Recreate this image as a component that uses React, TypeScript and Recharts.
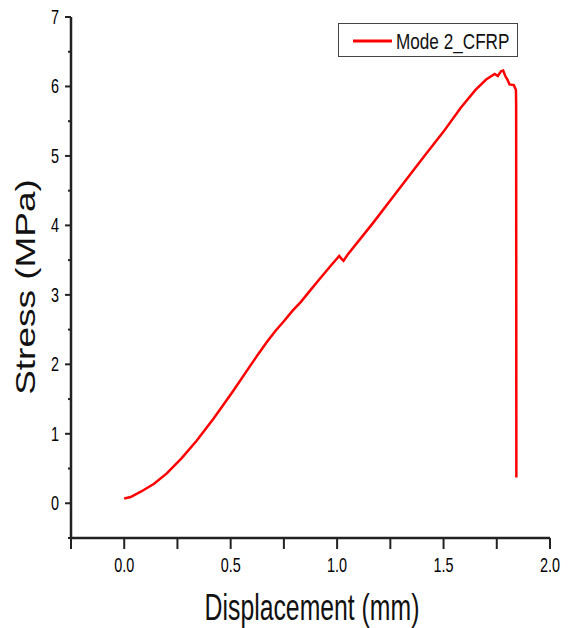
import React from 'react';
import { LineChart, Line, XAxis, YAxis } from 'recharts';

const displacement = [
    0.0, 0.03, 0.08, 0.14, 0.2, 0.27, 0.34, 0.42, 0.51, 0.59, 0.63, 0.67, 0.71, 0.75, 0.79,
    0.83, 0.87, 0.91, 0.97, 1.01, 1.02, 1.03, 1.05, 1.17, 1.29, 1.41, 1.5, 1.58, 1.65, 1.7,
    1.74, 1.755, 1.77, 1.78, 1.79, 1.8, 1.81, 1.83, 1.84, 1.841, 1.842,
];
const stress = [
    0.07, 0.09, 0.17, 0.28, 0.43, 0.65, 0.9, 1.22, 1.61, 1.97, 2.15, 2.32, 2.48, 2.62, 2.77,
    2.9, 3.05, 3.2, 3.42, 3.56, 3.52, 3.49, 3.58, 4.04, 4.52, 5.0, 5.35, 5.69, 5.95, 6.1,
    6.18, 6.15, 6.22, 6.23, 6.15, 6.1, 6.03, 6.02, 5.95, 5.75, 0.37,
];
const xTicks = [-0.25, 0, 0.25, 0.5, 0.75, 1, 1.25, 1.5, 1.75, 2];
const xLabels = [0, 0.5, 1, 1.5, 2];
const yTicks = [-0.5, 0, 0.5, 1, 1.5, 2, 2.5, 3, 3.5, 4, 4.5, 5, 5.5, 6, 6.5, 7];
const seriesName = 'Mode 2_CFRP';

const data = displacement.map((d, i) => ({ d, s: stress[i] }));

const FONT = 'Liberation Sans, Arial, sans-serif';
const SQUEEZE = 0.72;

const XTick = (props: any) => {
    const { x, y, payload } = props;
    const v = payload.value;
    const show = xLabels.some((l) => Math.abs(l - v) < 1e-6);
    return (
        <g>
            <line x1={x} x2={x} y1={y} y2={y + 11} stroke="#222" strokeWidth={2} />
            {show && (
                <text
                    transform={`translate(${x},${y + 34}) scale(${SQUEEZE},1)`}
                    textAnchor="middle"
                    fontSize={20}
                    fontFamily={FONT}
                    fill="#000"
                >
                    {v.toFixed(1)}
                </text>
            )}
        </g>
    );
};

const YTick = (props: any) => {
    const { x, y, payload } = props;
    const v = payload.value;
    const major = Number.isInteger(v);
    return (
        <g>
            <line x1={x - (major ? 6 : 3)} x2={x} y1={y} y2={y} stroke="#222" strokeWidth={2} />
            {major && (
                <text
                    transform={`translate(${x - 12},${y + 7}) scale(${SQUEEZE},1)`}
                    textAnchor="end"
                    fontSize={20}
                    fontFamily={FONT}
                    fill="#000"
                >
                    {v}
                </text>
            )}
        </g>
    );
};

// legend drawn as an overlay so it does not push the plot area down
const LegendBox = () => (
    <svg width={180} height={34} style={{ display: 'block' }}>
        <rect x={0.5} y={0.5} width={179} height={33} fill="#fff" stroke="#444" strokeWidth={1} />
        <line x1={15} x2={54} y1={18} y2={18} stroke="#ff0000" strokeWidth={3} />
        <text transform="translate(58,26) scale(0.78,1)" fontSize={22} fontFamily={FONT} fill="#111">
            {seriesName}
        </text>
    </svg>
);

export default function App() {
    return (
        <div style={{ position: 'absolute', left: 0, top: 0, width: 573, height: 628, background: '#fff' }}>
            <LineChart width={573} height={628} data={data} margin={{ top: 17, right: 23, left: 0, bottom: 0 }}>
                <XAxis
                    dataKey="d"
                    type="number"
                    domain={[-0.25, 2]}
                    ticks={xTicks}
                    allowDataOverflow
                    height={90}
                    tickSize={0}
                    tickMargin={0}
                    tick={<XTick />}
                    axisLine={{ stroke: '#222', strokeWidth: 2.5 }}
                    label={{
                        content: () => (
                            <text
                                transform={`translate(312,620) scale(0.67,1)`}
                                textAnchor="middle"
                                fontSize={37}
                                fontFamily={FONT}
                                fill="#111"
                            >
                                Displacement (mm)
                            </text>
                        ),
                    }}
                />
                <YAxis
                    type="number"
                    domain={[-0.5, 7]}
                    ticks={yTicks}
                    allowDataOverflow
                    width={71}
                    tickSize={0}
                    tickMargin={0}
                    tick={<YTick />}
                    axisLine={{ stroke: '#222', strokeWidth: 2.5 }}
                    label={{
                        content: () => (
                            <text
                                transform={`translate(35,287) rotate(-90) scale(1,0.74)`}
                                textAnchor="middle"
                                fontSize={37}
                                fontFamily={FONT}
                                fill="#111"
                            >
                                Stress (MPa)
                            </text>
                        ),
                    }}
                />
                <Line
                    type="linear"
                    dataKey="s"
                    name={seriesName}
                    stroke="#ff0000"
                    strokeWidth={2.5}
                    dot={false}
                    isAnimationActive={false}
                />
            </LineChart>
            <div style={{ position: 'absolute', left: 338, top: 23 }}>
                <LegendBox />
            </div>
        </div>
    );
}
